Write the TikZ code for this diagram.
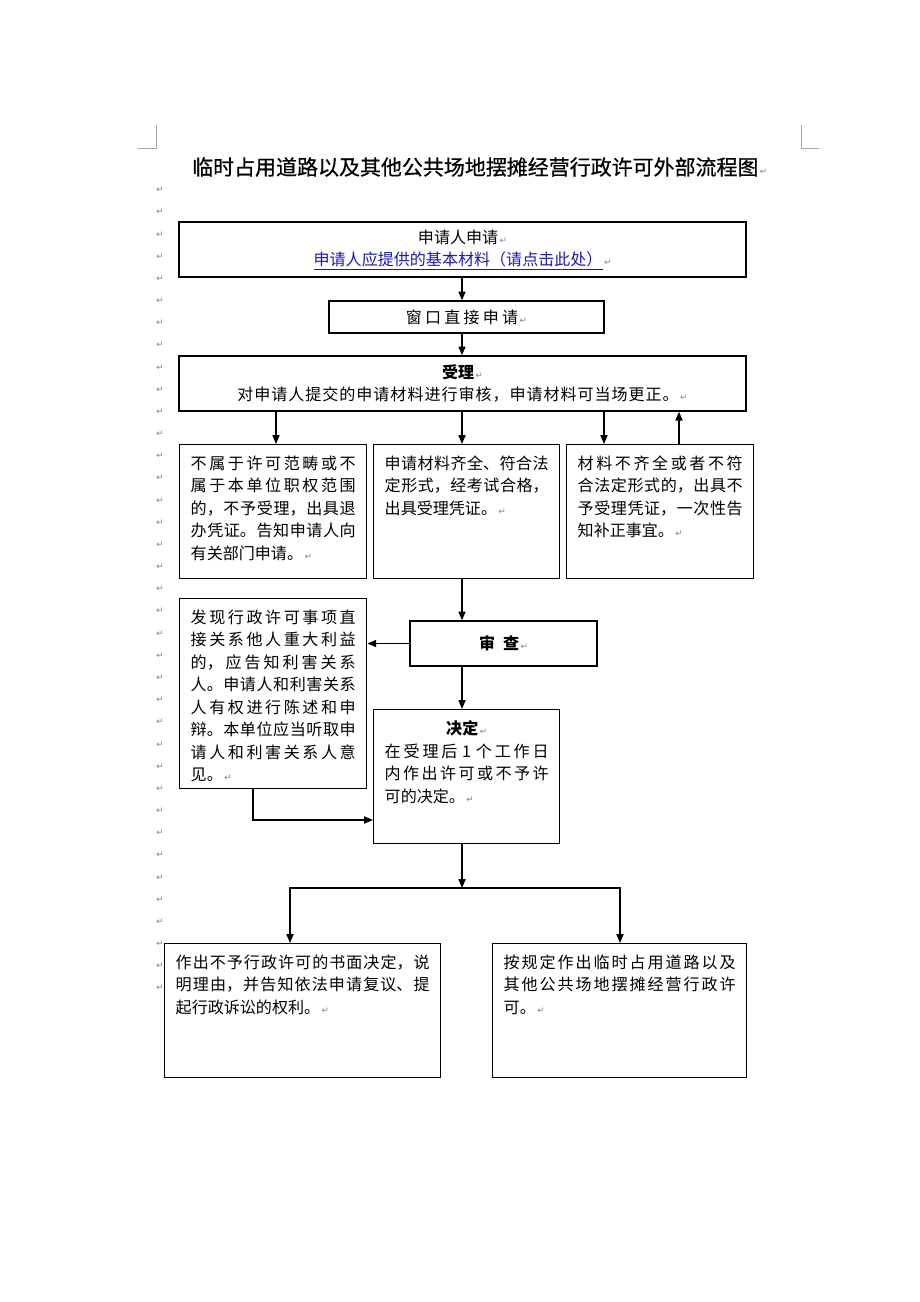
\documentclass[tikz,border=0pt]{standalone}
\usepackage{fontspec}
\setmainfont{Noto Sans CJK SC}
\newfontfamily\markfont{DejaVu Sans}
\usetikzlibrary{arrows.meta,positioning}
\XeTeXlinebreaklocale "zh"
\XeTeXlinebreakskip=0pt plus 4pt
\definecolor{linkblue}{RGB}{25,25,185}
\newcommand{\rmk}{{\markfont\fontsize{7.5pt}{8pt}\selectfont\color{gray}\,↵}}
\newcommand{\boxtext}[3]{\parbox[c][#1][t]{#2}{#3}}

\begin{document}
\begin{tikzpicture}[x=0.03cm, y=-0.03cm,
  box/.style={draw, line width=1.2pt, font=\fontsize{13.7pt}{19.2pt}\selectfont},
  tallbox/.style={box, anchor=north west, inner sep=0.33cm},
  arr/.style={line width=1.2pt, -{Triangle[length=7.5pt,width=6pt]}},
  pmark/.style={text=gray, font=\markfont\fontsize{7.5pt}{8pt}\selectfont, inner sep=0pt}]
\fill[white] (0,0) rectangle (920,1302);
\useasboundingbox (0,0) rectangle (920,1302);

\node[anchor=west, inner sep=0pt, font=\fontsize{17.9pt}{20pt}\selectfont] (title) at (192,167) {\addfontfeature{FakeBold=0.6}临时占用道路以及其他公共场地摆摊经营行政许可外部流程图\rmk};

\foreach \i in {0,...,36}
  \node[pmark] (pm\i) at (160,{190+22.17*\i}) {↵};

\draw[gray!70, line width=0.8pt] (138,148) -- (156,148) -- (156,125);
\draw[gray!70, line width=0.8pt] (819,148) -- (801,148) -- (801,125);

\coordinate (sp) at (462,0);
\coordinate (ca) at (276,0);
\coordinate (cc) at (604,0);
\coordinate (cu) at (679,0);
\coordinate (cj) at (253,820);
\coordinate (cm) at (462,888);
\coordinate (cl) at (290,888);
\coordinate (cr) at (620,888);

\node[box, minimum width=17.01cm, minimum height=1.65cm, inner sep=0pt, align=center] (app) at (462.5,249.5) {申请人申请\rmk\\{\color{linkblue}\underline{申请人应提供的基本材料（请点击此处）}}\rmk};
\node[box, minimum width=8.25cm, minimum height=0.96cm, inner sep=0pt] (win) at (466.5,317) {\addfontfeature{LetterSpace=20}窗口直接申请\rmk};
\node[box, minimum width=17.01cm, minimum height=1.65cm, inner sep=0pt, align=center] (acc) at (462.5,383.5) {\textbf{受理}\rmk\\{\addfontfeature{LetterSpace=6}对申请人提交的申请材料进行审核，申请材料可当场更正。}\rmk};

\node[tallbox] (no) at (179,444) {\boxtext{3.36cm}{4.95cm}{不属于许可范畴或不\linebreak 属于本单位职权范围\linebreak 的，不予受理，出具退\linebreak 办凭证。告知申请人向\linebreak 有关部门申请。\rmk}};
\node[tallbox] (ok) at (373,444) {\boxtext{3.36cm}{4.92cm}{申请材料齐全、符合法\linebreak 定形式，经考试合格，\linebreak 出具受理凭证。\rmk}};
\node[tallbox] (part) at (566,444) {\boxtext{3.36cm}{4.95cm}{材料不齐全或者不符\linebreak 合法定形式的，出具不\linebreak 予受理凭证，一次性告\linebreak 知补正事宜。\rmk}};

\node[box, minimum width=5.61cm, minimum height=1.35cm, inner sep=0pt] (rev) at (503.5,643.5) {\textbf{审\hspace{0.5em}查}\rmk};
\node[tallbox] (hear) at (179,598) {\boxtext{5.04cm}{4.95cm}{发现行政许可事项直\linebreak 接关系他人重大利益\linebreak 的，应告知利害关系\linebreak 人。申请人和利害关系\linebreak 人有权进行陈述和申\linebreak 辩。本单位应当听取申\linebreak 请人和利害关系人意\linebreak 见。\rmk}};
\node[tallbox] (dec) at (373,709) {\boxtext{3.36cm}{4.92cm}{\centerline{\textbf{决定}\rmk}在受理后\ 1\ 个工作日\linebreak 内作出许可或不予许\linebreak 可的决定。\rmk}};

\node[tallbox] (deny) at (164,943) {\boxtext{3.36cm}{7.62cm}{作出不予行政许可的书面决定，说\linebreak 明理由，并告知依法申请复议、提\linebreak 起行政诉讼的权利。\rmk}};
\node[tallbox] (grant) at (492,943) {\boxtext{3.36cm}{6.96cm}{按规定作出临时占用道路以及\linebreak 其他公共场地摆摊经营行政许\linebreak 可。\rmk}};

\draw[arr] (app.south -| sp) -- (win.north -| sp);
\draw[arr] (win.south -| sp) -- (acc.north -| sp);
\draw[arr] (acc.south -| ca) -- (no.north -| ca);
\draw[arr] (acc.south -| sp) -- (ok.north -| sp);
\draw[arr] (acc.south -| cc) -- (part.north -| cc);
\draw[arr] (part.north -| cu) -- (acc.south -| cu);
\draw[arr] (ok.south -| sp) -- (rev.north -| sp);
\draw[arr] (rev.west) -- (rev.west -| hear.east);
\draw[arr] (rev.south -| sp) -- (dec.north -| sp);
\draw[arr] (hear.south -| cj) |- (dec.west |- cj);
\draw[arr] (dec.south -| sp) -- (cm);
\draw[arr] (cm) -| (deny.north -| cl);
\draw[arr] (cm) -| (grant.north -| cr);
\end{tikzpicture}
\end{document}
